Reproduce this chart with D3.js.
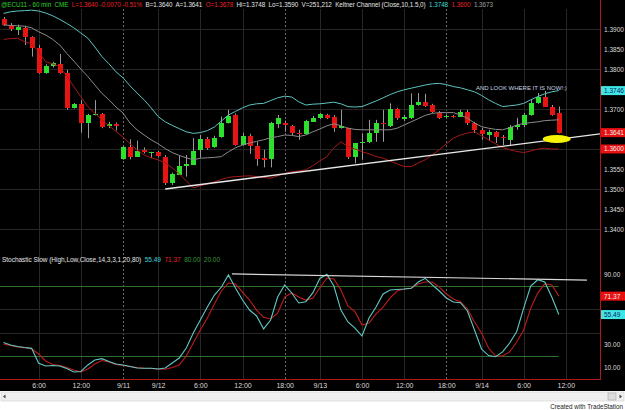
<!DOCTYPE html>
<html>
<head>
<meta charset="utf-8">
<script src="https://cdn.jsdelivr.net/npm/d3@7"></script>
<style>
  body { margin: 0; background: #fff; }
  text { font-family: "Liberation Sans", Arial, sans-serif; }
</style>
</head>
<body>
<svg width="625" height="410"></svg>
<script>
"use strict";

// 60분봉 OHLC (bar 0 = 9/9 1:00 부근, 마지막 bar 79 = 9/14 11:00)
const opens = [1.3924,1.3911,1.3898,1.3902,1.3879,1.3852,1.3791,1.3808,1.3812,1.3791,
  1.3703,1.3712,1.3664,1.3686,1.3688,1.3658,1.3662,1.3574,1.3606,1.3581,
  1.3598,1.3591,1.3593,1.3581,1.3516,1.3535,1.3558,1.3560,1.3598,1.3625,
  1.3604,1.3629,1.3664,1.3685,1.3610,1.3633,1.3608,1.3578,1.3574,1.3662,
  1.3664,1.3658,1.3641,1.3637,1.3668,1.3677,1.3685,1.3679,1.3652,1.3653,
  1.3581,1.3616,1.3617,1.3639,1.3666,1.3658,1.3699,1.3675,1.3677,1.3710,
  1.3717,1.3710,1.3689,1.3679,1.3683,1.3681,1.3693,1.3664,1.3648,1.3635,
  1.3643,1.3631,1.3623,1.3656,1.3660,1.3685,1.3714,1.3731,1.3706,1.3689];
const highs = [1.3930,1.3915,1.3911,1.3908,1.3882,1.3860,1.3812,1.3818,1.3838,1.3798,
  1.3715,1.3722,1.3688,1.3722,1.3690,1.3668,1.3666,1.3608,1.3624,1.3621,
  1.3604,1.3593,1.3595,1.3585,1.3541,1.3583,1.3585,1.3627,1.3635,1.3630,
  1.3633,1.3681,1.3698,1.3689,1.3641,1.3638,1.3618,1.3598,1.3668,1.3685,
  1.3671,1.3660,1.3648,1.3673,1.3683,1.3690,1.3688,1.3685,1.3698,1.3653,
  1.3614,1.3639,1.3673,1.3673,1.3698,1.3714,1.3703,1.3685,1.3739,1.3740,
  1.3738,1.3713,1.3695,1.3685,1.3685,1.3698,1.3698,1.3668,1.3653,1.3648,
  1.3645,1.3635,1.3660,1.3678,1.3690,1.3723,1.3740,1.3745,1.3710,1.3706];
const lows = [1.3908,1.3895,1.3885,1.3860,1.3831,1.3788,1.3788,1.3804,1.3788,1.3698,
  1.3701,1.3641,1.3627,1.3684,1.3652,1.3652,1.3646,1.3573,1.3574,1.3581,
  1.3589,1.3577,1.3579,1.3510,1.3510,1.3535,1.3531,1.3560,1.3578,1.3598,
  1.3603,1.3628,1.3664,1.3608,1.3608,1.3588,1.3558,1.3554,1.3554,1.3652,
  1.3643,1.3635,1.3623,1.3635,1.3668,1.3675,1.3675,1.3643,1.3651,1.3575,
  1.3564,1.3573,1.3615,1.3618,1.3618,1.3655,1.3673,1.3670,1.3675,1.3708,
  1.3705,1.3690,1.3675,1.3678,1.3678,1.3680,1.3660,1.3640,1.3623,1.3620,
  1.3615,1.3610,1.3610,1.3648,1.3655,1.3683,1.3713,1.3705,1.3683,1.3639];
const closes = [1.3911,1.3899,1.3904,1.3881,1.3852,1.3791,1.3808,1.3814,1.3789,1.3702,
  1.3712,1.3664,1.3684,1.3688,1.3656,1.3662,1.3659,1.3604,1.3581,1.3594,
  1.3593,1.3593,1.3583,1.3516,1.3538,1.3558,1.3562,1.3596,1.3625,1.3602,
  1.3628,1.3664,1.3683,1.3610,1.3633,1.3608,1.3574,1.3573,1.3664,1.3677,
  1.3659,1.3639,1.3638,1.3670,1.3678,1.3687,1.3678,1.3652,1.3658,1.3581,
  1.3614,1.3618,1.3639,1.3664,1.3662,1.3699,1.3677,1.3680,1.3710,1.3717,
  1.3708,1.3693,1.3677,1.3683,1.3679,1.3693,1.3664,1.3648,1.3638,1.3643,
  1.3629,1.3627,1.3656,1.3660,1.3685,1.3714,1.3731,1.3706,1.3685,1.3640];

// Keltner Channel (Close,10,1.5,0) - 그림에서 읽은 값
const kcUpper = [1.3939,1.3943,1.3945,1.3946,1.3947,1.3945,1.3940,1.3933,1.3924,1.3914,
  1.3903,1.3890,1.3877,1.3855,1.3831,1.3813,1.3793,1.3778,1.3758,1.3740,
  1.3723,1.3703,1.3681,1.3668,1.3659,1.3651,1.3643,1.3639,1.3641,1.3646,
  1.3655,1.3670,1.3685,1.3694,1.3703,1.3710,1.3713,1.3714,1.3721,1.3728,
  1.3732,1.3730,1.3718,1.3710,1.3712,1.3713,1.3715,1.3717,1.3713,1.3706,
  1.3705,1.3706,1.3713,1.3720,1.3728,1.3736,1.3743,1.3748,1.3752,1.3756,
  1.3760,1.3763,1.3764,1.3761,1.3756,1.3753,1.3748,1.3743,1.3734,1.3723,
  1.3714,1.3706,1.3708,1.3710,1.3714,1.3723,1.3731,1.3738,1.3743,1.3746];
const kcMid = [1.3910,1.3909,1.3908,1.3907,1.3903,1.3893,1.3885,1.3874,1.3860,1.3839,
  1.3820,1.3800,1.3781,1.3760,1.3739,1.3723,1.3705,1.3690,1.3665,1.3648,
  1.3635,1.3623,1.3613,1.3601,1.3591,1.3584,1.3578,1.3573,1.3577,1.3578,
  1.3579,1.3581,1.3593,1.3603,1.3610,1.3615,1.3619,1.3623,1.3628,1.3631,
  1.3635,1.3634,1.3631,1.3635,1.3643,1.3650,1.3658,1.3663,1.3658,1.3652,
  1.3649,1.3648,1.3648,1.3648,1.3648,1.3648,1.3652,1.3660,1.3668,1.3676,
  1.3684,1.3689,1.3691,1.3691,1.3691,1.3685,1.3677,1.3665,1.3656,1.3652,
  1.3649,1.3648,1.3653,1.3660,1.3664,1.3666,1.3668,1.3671,1.3672,1.3673];
const kcLower = [1.3874,1.3876,1.3877,1.3868,1.3863,1.3843,1.3818,1.3813,1.3805,1.3783,
  1.3756,1.3731,1.3706,1.3689,1.3673,1.3658,1.3644,1.3630,1.3613,1.3598,
  1.3585,1.3578,1.3573,1.3565,1.3553,1.3538,1.3520,1.3503,1.3508,1.3513,
  1.3518,1.3524,1.3529,1.3531,1.3532,1.3533,1.3531,1.3529,1.3527,1.3533,
  1.3539,1.3543,1.3545,1.3548,1.3558,1.3570,1.3581,1.3603,1.3618,1.3606,
  1.3600,1.3593,1.3588,1.3581,1.3577,1.3570,1.3563,1.3556,1.3556,1.3565,
  1.3573,1.3585,1.3598,1.3613,1.3627,1.3635,1.3640,1.3643,1.3633,1.3623,
  1.3613,1.3604,1.3598,1.3594,1.3591,1.3595,1.3600,1.3602,1.3600,1.3600];

// Stochastic Slow (14,3,3) %K, %D
const stochK = [31.4,29.3,28.0,27.1,26.4,13.5,11.2,11.6,11.2,9.0,
  6.0,6.5,12.1,16.4,17.5,15.1,12.9,12.1,10.8,9.5,
  9.2,9.2,8.6,9.5,13.8,18.1,26.7,39.6,50.8,62.0,
  72.3,79.2,89.6,78.4,68.0,59.4,54.3,43.1,50.8,70.6,
  81.0,74.1,65.5,66.6,74.1,86.6,90.2,80.1,59.4,49.1,
  43.9,37.0,52.5,62.0,73.2,76.7,77.1,77.5,78.1,83.5,
  86.7,81.0,75.8,69.8,66.3,65.7,58.6,42.2,25.8,20.2,
  19.2,23.3,31.0,40.7,61.0,80.0,85.5,83.5,70.6,55.49];
const stochD = [30.1,28.9,27.6,27.0,26.1,21.5,15.5,12.5,11.6,9.9,
  7.8,6.0,8.6,12.9,15.9,14.6,12.5,11.6,10.8,9.9,
  9.2,9.0,8.6,8.4,9.9,12.1,19.8,31.0,42.2,52.5,
  64.6,75.8,82.7,81.8,74.9,68.0,59.4,53.1,51.7,56.8,
  70.6,74.1,70.6,68.0,69.5,78.4,87.0,86.1,76.7,62.9,
  58.0,46.5,48.2,56.0,62.0,69.8,75.8,77.5,78.1,81.8,
  83.5,83.5,79.2,73.2,68.9,66.6,60.3,49.1,39.6,26.7,
  19.8,19.8,23.3,31.9,42.2,61.0,74.0,82.0,81.0,71.37];

// 시간축 라벨 (bar index 기준)
const timeTickBars = [5, 11, 17, 22, 28, 34, 40, 45, 51, 57, 63, 68, 74, 80];
const timeTickLabels = ["6:00","12:00","9/11","9/12","6:00","12:00","18:00","9/13","6:00","12:00","18:00","9/14","6:00","12:00"];
const sessionBreaks = [17, 40, 63]; // 점선으로 그리는 세션 구분선

const priceTicks = [1.34, 1.345, 1.35, 1.355, 1.36, 1.365, 1.37, 1.375, 1.38, 1.385, 1.39];
const priceGrid = [1.34, 1.35, 1.36, 1.37, 1.38, 1.39];
const stochTicks = [10, 30, 50, 70, 90];
const stochGrid = [40, 60];
const stochLevels = [20, 80];

// 손으로 그은 추세선들
const priceTrend = [{ bar: 23, price: 1.3500 }, { bar: 85, price: 1.3638 }];
const stochTrend = [{ bar: 32.5, value: 90.5 }, { bar: 83, value: 85.2 }];
const noteMark = { bar: 78.7, price: 1.3625 };
const noteText = { bar: 67.2, price: 1.37475, text: "AND LOOK WHERE IT IS NOW!:)" };

// 축 위의 현재값 박스
const priceMarkers = [
  { value: 1.3746, label: "1.3746", fill: "#3fe6e6", color: "#102060" },
  { value: 1.3641, label: "1.3641", fill: "#e81010", color: "#f0f0f0" },
  { value: 1.3600, label: "1.3600", fill: "#e81010", color: "#f0f0f0" }
];
const stochMarkers = [
  { value: 71.37, label: "71.37", fill: "#e81010", color: "#f0f0f0" },
  { value: 55.49, label: "55.49", fill: "#3fe6e6", color: "#102060" }
];

// 헤더 텍스트 조각들
const priceHeader = [
  { text: "@ECU11 - 60 min  CME", color: "#2ed02e" },
  { text: "L=1.3640 -0.0070 -0.51%", color: "#e82020" },
  { text: "B=1.3640", color: "#e6e6e6" },
  { text: "A=1.3641", color: "#e6e6e6" },
  { text: "O=1.3678", color: "#e82020" },
  { text: "Hi=1.3748", color: "#e6e6e6" },
  { text: "Lo=1.3590", color: "#e6e6e6" },
  { text: "V=251,212", color: "#e6e6e6" },
  { text: "Keltner Channel (Close,10,1.5,0)", color: "#e6e6e6" },
  { text: "1.3748", color: "#40d8d8" },
  { text: "1.3600", color: "#e82020" },
  { text: "1.3673", color: "#a0a0a0" }
];
const stochHeader = [
  { text: "Stochastic Slow (High,Low,Close,14,3,3,1,20,80)", color: "#e6e6e6" },
  { text: "55.49", color: "#40d8d8" },
  { text: "71.37", color: "#e82020" },
  { text: "80.00", color: "#3a9a3a" },
  { text: "20.00", color: "#3a9a3a" }
];

function drawChart() {
  const svg = d3.select("svg");
  const W = 625;
  const plotRight = 600;

  // 매핑함수부터
  const xScale = d3.scaleLinear().domain([0, 85]).range([3.5, 601]);
  const priceY = d3.scaleLinear().domain([1.34, 1.39]).range([229, 29]);
  const stochY = d3.scaleLinear().domain([0, 100]).range([379, 262.9]);

  svg.append("rect").attr("width", W).attr("height", 410).attr("fill", "#000");

  const defs = svg.append("defs");
  defs.append("clipPath").attr("id", "clipPrice")
    .append("rect").attr("x", 0).attr("y", 8).attr("width", plotRight).attr("height", 241);
  defs.append("clipPath").attr("id", "clipStoch")
    .append("rect").attr("x", 0).attr("y", 250).attr("width", plotRight).attr("height", 129);

  // 세로 그리드 (양쪽 패널 모두)
  const grid = svg.append("g").attr("class", "grid");
  grid.selectAll("line.vgrid")
    .data(timeTickBars)
    .enter()
    .append("line")
    .attr("class", "vgrid")
    .attr("x1", d => Math.round(xScale(d)) + 0.5)
    .attr("x2", d => Math.round(xScale(d)) + 0.5)
    .attr("y1", 9)
    .attr("y2", 379)
    .attr("stroke", d => sessionBreaks.includes(d) ? "#6a6a6a" : "#262626")
    .attr("stroke-dasharray", d => sessionBreaks.includes(d) ? "2,2" : null);

  // 가로 그리드
  grid.selectAll("line.pgrid")
    .data(priceGrid)
    .enter()
    .append("line")
    .attr("class", "pgrid")
    .attr("x1", 0).attr("x2", plotRight)
    .attr("y1", d => Math.round(priceY(d)) + 0.5)
    .attr("y2", d => Math.round(priceY(d)) + 0.5)
    .attr("stroke", "#262626");

  grid.selectAll("line.sgrid")
    .data(stochGrid)
    .enter()
    .append("line")
    .attr("class", "sgrid")
    .attr("x1", 0).attr("x2", plotRight)
    .attr("y1", d => Math.round(stochY(d)) + 0.5)
    .attr("y2", d => Math.round(stochY(d)) + 0.5)
    .attr("stroke", "#262626");

  // ---------- 가격 패널 ----------
  const pricePanel = svg.append("g").attr("clip-path", "url(#clipPrice)");
  const bars = d3.range(opens.length);

  pricePanel.selectAll("line.wick")
    .data(bars)
    .enter()
    .append("line")
    .attr("class", "wick")
    .attr("x1", i => Math.round(xScale(i)) + 0.5)
    .attr("x2", i => Math.round(xScale(i)) + 0.5)
    .attr("y1", i => priceY(highs[i]))
    .attr("y2", i => priceY(lows[i]))
    .attr("stroke", "#9a9a9a")
    .attr("stroke-width", 1);

  pricePanel.selectAll("rect.body")
    .data(bars)
    .enter()
    .append("rect")
    .attr("class", "body")
    .attr("x", i => Math.round(xScale(i)) - 2)
    .attr("width", 5)
    .attr("y", i => priceY(Math.max(opens[i], closes[i])))
    .attr("height", i => Math.max(1.5, Math.abs(priceY(opens[i]) - priceY(closes[i]))))
    .attr("fill", i => closes[i] >= opens[i] ? "#2ee02e" : "#e81414")
    .attr("shape-rendering", "crispEdges");

  const kcLine = d3.line().x((d, i) => xScale(i)).y(d => priceY(d));
  pricePanel.append("path").attr("d", kcLine(kcUpper))
    .attr("fill", "none").attr("stroke", "#5cc4c0").attr("stroke-width", 1);
  pricePanel.append("path").attr("d", kcLine(kcMid))
    .attr("fill", "none").attr("stroke", "#8a8a8a").attr("stroke-width", 1);
  pricePanel.append("path").attr("d", kcLine(kcLower))
    .attr("fill", "none").attr("stroke", "#a81818").attr("stroke-width", 1);

  const trendLine = d3.line().x(d => xScale(d.bar)).y(d => priceY(d.price));
  pricePanel.append("path").attr("d", trendLine(priceTrend))
    .attr("fill", "none").attr("stroke", "#e8e8e8").attr("stroke-width", 1.3);

  pricePanel.append("ellipse")
    .attr("cx", xScale(noteMark.bar))
    .attr("cy", priceY(noteMark.price))
    .attr("rx", 14).attr("ry", 4)
    .attr("fill", "#f6f400");

  pricePanel.append("text")
    .attr("x", xScale(noteText.bar))
    .attr("y", priceY(noteText.price))
    .attr("font-size", 6)
    .attr("fill", "#c8d4e4")
    .text(noteText.text);

  // ---------- 스토캐스틱 패널 ----------
  const stochPanel = svg.append("g").attr("clip-path", "url(#clipStoch)");
  stochPanel.selectAll("line.level")
    .data(stochLevels)
    .enter()
    .append("line")
    .attr("class", "level")
    .attr("x1", 0).attr("x2", xScale(stochK.length - 1))
    .attr("y1", d => Math.round(stochY(d)) + 0.5)
    .attr("y2", d => Math.round(stochY(d)) + 0.5)
    .attr("stroke", "#2f6e2f");

  const stochLine = d3.line().x((d, i) => xScale(i)).y(d => stochY(d));
  stochPanel.append("path").attr("d", stochLine(stochD))
    .attr("fill", "none").attr("stroke", "#c01c1c").attr("stroke-width", 1.1);
  stochPanel.append("path").attr("d", stochLine(stochK))
    .attr("fill", "none").attr("stroke", "#62c8c4").attr("stroke-width", 1.1);

  const stochTrendLine = d3.line().x(d => xScale(d.bar)).y(d => stochY(d.value));
  stochPanel.append("path").attr("d", stochTrendLine(stochTrend))
    .attr("fill", "none").attr("stroke", "#d8d8d8").attr("stroke-width", 1.2);

  // ---------- 헤더 ----------
  // 한 줄의 text 안에 tspan 으로 색만 바꿔가며 이어 붙임 (textLength 로 전체 폭 맞춤)
  const pHead = svg.append("text")
    .attr("x", 1)
    .attr("y", 7)
    .attr("font-size", 6.3)
    .attr("textLength", 492)
    .attr("lengthAdjust", "spacing")
    .style("white-space", "pre");
  pHead.selectAll("tspan")
    .data(priceHeader)
    .enter()
    .append("tspan")
    .attr("fill", d => d.color)
    .text((d, i) => (i === 0 ? "" : "  ") + d.text);

  const sHead = svg.append("text")
    .attr("x", 2)
    .attr("y", 262)
    .attr("font-size", 6.5)
    .attr("textLength", 218)
    .attr("lengthAdjust", "spacing")
    .style("white-space", "pre");
  sHead.selectAll("tspan")
    .data(stochHeader)
    .enter()
    .append("tspan")
    .attr("fill", d => d.color)
    .text((d, i) => (i === 0 ? "" : "  ") + d.text);

  // ---------- 축 ----------
  // 현재값 박스에 가려지는 눈금 라벨은 뺀다
  const freeTicks = (ticks, markers, scale) =>
    ticks.filter(t => markers.every(m => Math.abs(scale(t) - scale(m.value)) > 6.5));

  const priceAxis = d3.axisRight(priceY)
    .tickValues(freeTicks(priceTicks, priceMarkers, priceY))
    .tickSize(0)
    .tickPadding(4)
    .tickFormat(d3.format(".4f"));
  const pAxisG = svg.append("g").attr("transform", `translate(${plotRight},0)`).call(priceAxis);

  const stochAxis = d3.axisRight(stochY)
    .tickValues(freeTicks(stochTicks, stochMarkers, stochY))
    .tickSize(0)
    .tickPadding(4)
    .tickFormat(d3.format(".2f"));
  const sAxisG = svg.append("g").attr("transform", `translate(${plotRight},0)`).call(stochAxis);

  const timeAxis = d3.axisBottom(xScale)
    .tickValues(timeTickBars)
    .tickSize(0)
    .tickPadding(4)
    .tickFormat((d, i) => timeTickLabels[i]);
  const tAxisG = svg.append("g").attr("transform", "translate(0,379)").call(timeAxis);

  [pAxisG, sAxisG, tAxisG].forEach(g => {
    g.select(".domain").remove();
    g.selectAll("text")
      .attr("fill", "#dcdcdc")
      .attr("font-size", 6.5)
      .attr("font-family", "'Liberation Sans', Arial, sans-serif");
  });
  tAxisG.selectAll("text").attr("font-size", 7);

  // 축 위 현재값 박스
  const drawMarkers = (markers, scale) => {
    const g = svg.append("g");
    g.selectAll("rect")
      .data(markers)
      .enter()
      .append("rect")
      .attr("x", plotRight + 1)
      .attr("y", d => scale(d.value) - 4.5)
      .attr("width", W - plotRight - 1)
      .attr("height", 9)
      .attr("fill", d => d.fill);
    g.selectAll("text")
      .data(markers)
      .enter()
      .append("text")
      .attr("x", plotRight + 4)
      .attr("y", d => scale(d.value) + 2.4)
      .attr("font-size", 6.5)
      .attr("fill", d => d.color)
      .text(d => d.label);
  };
  drawMarkers(priceMarkers, priceY);
  drawMarkers(stochMarkers, stochY);

  // 빨간 경계선
  svg.append("line")
    .attr("x1", plotRight + 0.5).attr("x2", plotRight + 0.5)
    .attr("y1", 0).attr("y2", 380)
    .attr("stroke", "#b01818");
  svg.append("line")
    .attr("x1", 0).attr("x2", plotRight)
    .attr("y1", 379.5).attr("y2", 379.5)
    .attr("stroke", "#b01818");

  // 하단 스크롤바 + 크레딧
  svg.append("rect").attr("x", 0).attr("y", 391).attr("width", W).attr("height", 19).attr("fill", "#ffffff");
  svg.append("rect").attr("x", 1).attr("y", 392).attr("width", W - 2).attr("height", 9)
    .attr("fill", "#efefef").attr("stroke", "#c8c8c8").attr("stroke-width", 0.5);
  svg.append("path").attr("d", "M3,396.5 L5.5,394.5 L5.5,398.5 Z").attr("fill", "#444");
  svg.append("rect").attr("x", 608).attr("y", 393).attr("width", 8).attr("height", 7)
    .attr("fill", "#dcdcdc").attr("stroke", "#a8a8a8").attr("stroke-width", 0.6);
  svg.append("path").attr("d", "M622,396.5 L619.5,394.5 L619.5,398.5 Z").attr("fill", "#444");
  svg.append("text")
    .attr("x", 623).attr("y", 408.5)
    .attr("text-anchor", "end")
    .attr("font-size", 6.3)
    .attr("fill", "#202020")
    .text("Created with TradeStation");
}

drawChart();
</script>
</body>
</html>
